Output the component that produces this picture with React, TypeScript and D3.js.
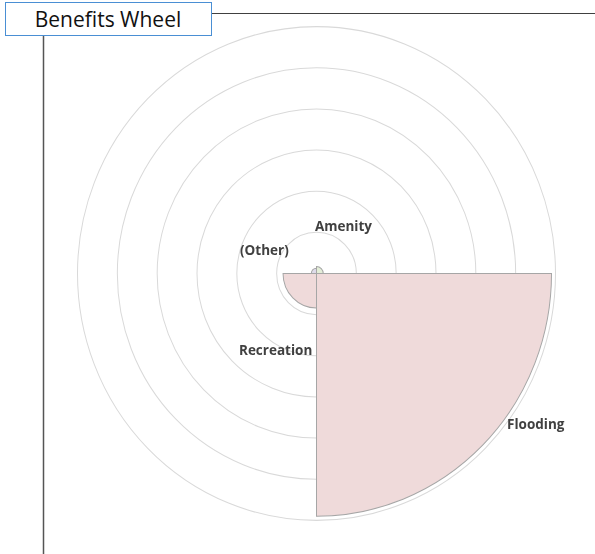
import { useEffect, useRef } from "react";
import * as d3 from "d3";

const categories = ["Amenity", "Flooding", "Recreation", "(Other)"];
const values = [0.17, 5.9, 0.84, 0.13];
const ringTicks = [1, 2, 3, 4, 5, 6];
const sliceColors = ["#e4eed8", "#efdada", "#efdada", "#dedbea"];

export default function App(): JSX.Element {
  const ref = useRef<SVGSVGElement | null>(null);

  useEffect(() => {
    if (!ref.current) return;
    const width = 595;
    const height = 554;
    const cx = 316.5;
    const cy = 273.5;
    const stretch = 1.033; // the wheel is drawn a touch taller than wide

    const svg = d3.select(ref.current).attr("width", width).attr("height", height);
    svg.selectAll("*").remove();

    // frame: title box, top rule and left rule
    svg
      .append("line")
      .attr("x1", 212)
      .attr("x2", width)
      .attr("y1", 13.5)
      .attr("y2", 13.5)
      .attr("stroke", "#404040")
      .attr("stroke-width", 1.2);
    svg
      .append("line")
      .attr("x1", 43.5)
      .attr("x2", 43.5)
      .attr("y1", 36)
      .attr("y2", height)
      .attr("stroke", "#555")
      .attr("stroke-width", 1.5);
    svg
      .append("rect")
      .attr("x", 5.5)
      .attr("y", 2.5)
      .attr("width", 206)
      .attr("height", 33)
      .attr("fill", "#fff")
      .attr("stroke", "#4a8fd4")
      .attr("stroke-width", 1);
    svg
      .append("text")
      .attr("x", 108)
      .attr("y", 27)
      .attr("text-anchor", "middle")
      .attr("font-family", "'Open Sans', sans-serif")
      .attr("font-size", 21)
      .attr("fill", "#111")
      .text("Benefits Wheel");

    const r = d3.scaleLinear().domain([0, 6]).range([0, 239]);
    const angle = d3
      .scaleBand<string>()
      .domain(categories)
      .range([0, 2 * Math.PI]);

    const g = svg
      .append("g")
      .attr("transform", `translate(${cx},${cy}) scale(1,${stretch})`);

    g.selectAll("circle.ring")
      .data(ringTicks)
      .join("circle")
      .attr("class", "ring")
      .attr("r", (d) => r(d))
      .attr("fill", "none")
      .attr("stroke", "#d9d9d9")
      .attr("stroke-width", 1);

    const arc = d3
      .arc<number>()
      .innerRadius(0)
      .outerRadius((d) => r(d))
      .startAngle((_, i) => angle(categories[i]) ?? 0)
      .endAngle((_, i) => (angle(categories[i]) ?? 0) + angle.bandwidth());

    g.selectAll("path.slice")
      .data(values)
      .join("path")
      .attr("class", "slice")
      .attr("d", (d, i) => arc(d, i) as string)
      .attr("fill", (_, i) => sliceColors[i])
      .attr("stroke", "#a6a6a6")
      .attr("stroke-width", 1);

    // label spots, as clockwise angle (deg from top) and radius in px
    const labelSpot: Record<string, [number, number]> = {
      Amenity: [30, 54],
      Flooding: [124.5, 266],
      Recreation: [208, 87],
      "(Other)": [294, 57],
    };

    svg
      .selectAll("text.cat")
      .data(categories)
      .join("text")
      .attr("class", "cat")
      .attr("x", (d) => cx + labelSpot[d][1] * Math.sin((labelSpot[d][0] * Math.PI) / 180))
      .attr("y", (d) => cy - labelSpot[d][1] * Math.cos((labelSpot[d][0] * Math.PI) / 180))
      .attr("dy", "0.35em")
      .attr("text-anchor", "middle")
      .attr("font-family", "'Open Sans', sans-serif")
      .attr("font-weight", "bold")
      .attr("font-size", 13.5)
      .attr("fill", "#404040")
      .text((d) => d);
  }, []);

  return (
    <div style={{ position: "fixed", left: 0, top: 0 }}>
      <svg ref={ref} style={{ display: "block" }} />
    </div>
  );
}
